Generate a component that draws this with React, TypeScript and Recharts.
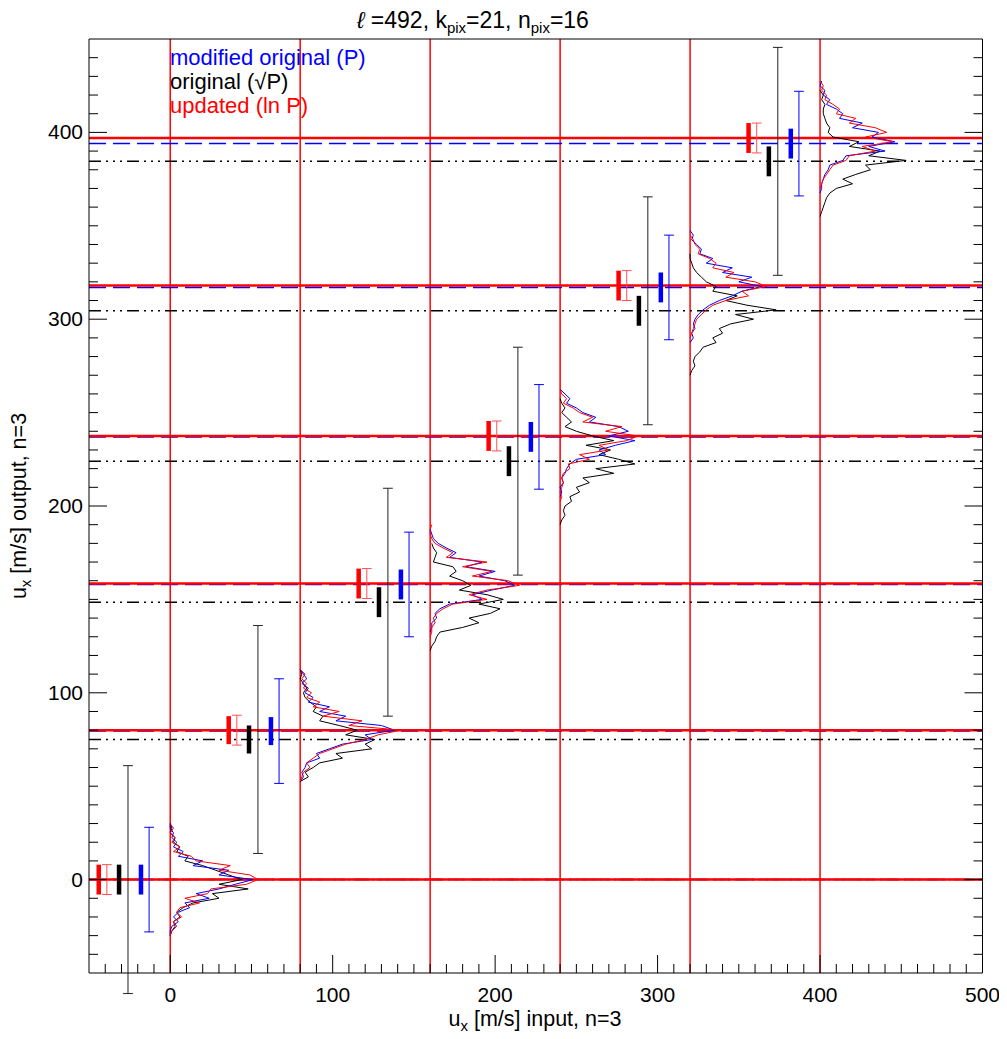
import React from 'react';
import { ComposedChart, XAxis, YAxis, Scatter, ReferenceLine } from 'recharts';

// input velocities (one column per input)
const INPUTS = [0, 80, 160, 240, 320, 400];

// mean recovered output per method
const RED_MEAN = [0, 80, 158.5, 237.5, 318, 397];
const BLUE_MEAN = [0, 79.5, 158, 237, 317, 394];
const BLACK_MEAN = [0, 75, 148.5, 224, 304.5, 384.5];

// half-length of the thick bars (error of the mean) and thin errorbars (scatter)
const MEAN_ERR = [8, 7.5, 8, 8, 8, 8];
const RED_ERR = [8, 8, 8, 8, 8, 8];
const BLUE_ERR = [28, 28, 28, 28, 28, 28];
const BLACK_ERR = [61, 61, 61, 61, 61, 61];

// histograms of the output: first bin centre and counts, bins 2.5 m/s wide
const BIN = 2.5;
const RED_TOP = [30, 112.5, 190, 262.5, 345, 427.5];
const RED_HIST = [
  [0, 2, 0, 3, 1, 6, 2, 13, 16, 37, 30, 49, 54, 47, 25, 23, 9, 18, 6, 4, 7, 2, 4, 1, 0],
  [0, 3, 1, 4, 2, 7, 4, 12, 8, 24, 14, 38, 30, 62, 48, 40, 28, 20, 12, 8, 4, 6, 2, 1, 0],
  [1, 0, 0, 1, 3, 8, 14, 10, 35, 20, 38, 26, 48, 55, 35, 24, 35, 14, 8, 4, 2, 3, 1, 1, 0],
  [0, 1, 4, 2, 8, 12, 20, 14, 38, 28, 48, 41, 24, 30, 12, 18, 5, 6, 2, 1, 2, 1, 0, 1, 0],
  [0, 2, 3, 6, 5, 12, 16, 14, 27, 22, 40, 47, 32, 36, 22, 14, 10, 7, 4, 3, 2, 1, 0],
  [0, 2, 1, 4, 3, 8, 12, 10, 22, 18, 34, 41, 28, 45, 26, 34, 18, 16, 8, 6, 4, 2, 1, 0],
];
const BLUE_TOP = [30, 112.5, 187.5, 262.5, 347.5, 427.5];
const BLUE_HIST = [
  [0, 0, 2, 1, 4, 2, 8, 5, 20, 14, 36, 30, 51, 40, 30, 16, 24, 9, 12, 5, 2, 5, 1, 0, 0],
  [0, 2, 4, 1, 5, 3, 8, 5, 18, 12, 28, 22, 50, 58, 40, 44, 26, 18, 10, 12, 4, 3, 1, 2, 0],
  [0, 1, 2, 5, 10, 16, 12, 32, 22, 40, 30, 46, 52, 38, 26, 32, 12, 6, 3, 4, 1, 1, 0],
  [0, 3, 6, 4, 10, 14, 22, 18, 36, 42, 30, 46, 34, 24, 28, 10, 6, 4, 3, 1, 2, 0, 1, 0],
  [0, 2, 1, 4, 7, 6, 14, 10, 26, 20, 38, 30, 44, 32, 26, 18, 12, 8, 5, 3, 2, 3, 1, 2, 0],
  [1, 0, 3, 2, 6, 4, 10, 14, 12, 26, 20, 36, 32, 46, 30, 40, 16, 14, 6, 5, 3, 2, 1, 1, 0],
];
const BLACK_TOP = [30, 112.5, 180, 257.5, 335, 422.5];
const BLACK_HIST = [
  [0, 1, 0, 3, 2, 6, 4, 11, 9, 20, 28, 36, 44, 30, 48, 26, 30, 14, 8, 4, 6, 2, 3, 1, 0],
  [0, 1, 0, 2, 4, 2, 3, 6, 10, 8, 14, 12, 24, 35, 28, 46, 40, 44, 22, 26, 12, 8, 3, 5, 0],
  [1, 2, 4, 3, 2, 14, 16, 12, 20, 25, 18, 35, 45, 30, 43, 37, 24, 30, 20, 6, 4, 3, 1, 0],
  [0, 1, 3, 1, 4, 7, 3, 10, 20, 33, 16, 31, 24, 36, 46, 22, 33, 14, 18, 10, 12, 6, 7, 3, 2, 3, 1, 0],
  [0, 0, 1, 2, 4, 7, 10, 16, 14, 29, 22, 35, 53, 28, 39, 25, 18, 20, 14, 16, 8, 6, 3, 2, 3, 1, 0],
  [0, 2, 1, 3, 2, 2, 3, 4, 6, 5, 8, 24, 18, 37, 30, 53, 28, 31, 22, 14, 20, 10, 6, 4, 3, 2, 1, 0],
];

const X_LABELS = [0, 100, 200, 300, 400, 500];
const Y_LABELS = [0, 100, 200, 300, 400];

const W = 999;
const H = 1031;
const FONT = '"Liberation Sans", Arial, Helvetica, sans-serif';
const RED = '#ff0000';
const BLUE = '#0000ff';
const PINK = '#ff5050';

// where each marker sits left of its input column
const OFF_RED_BAR = -44;
const OFF_RED_ERR = -39;
const OFF_BLACK_BAR = -31.5;
const OFF_BLACK_ERR = -26;
const OFF_BLUE_BAR = -18;
const OFF_BLUE_ERR = -13;
const CAP = 3;

const every10 = (a: number, b: number) => {
  const t: number[] = [];
  for (let v = a; v <= b; v += 10) t.push(v);
  return t;
};
const X_TICKS = every10(-40, 500);
const Y_TICKS = every10(-40, 440);

const toPoints = (input: number, top: number, counts: number[]) =>
  counts.map((n, i) => ({ x: input + n, y: top - i * BIN }));

const NoDot = () => <g />;

const XTick = (props: any) => {
  const { x, y, payload, side } = props;
  const v = payload.value;
  const major = X_LABELS.includes(v);
  const len = major ? 18 : 9;
  const dir = side === 'bottom' ? -1 : 1;
  return (
    <g>
      <line x1={x} y1={y} x2={x} y2={y + dir * len} stroke="#000" strokeWidth={1} />
      {side === 'bottom' && major && (
        <text x={x} y={y + 29} textAnchor="middle" fontSize={21} fontFamily={FONT} fill="#000">
          {v}
        </text>
      )}
    </g>
  );
};

const YTick = (props: any) => {
  const { x, y, payload, side } = props;
  const v = payload.value;
  const major = Y_LABELS.includes(v);
  const len = major ? 18 : 9;
  const dir = side === 'left' ? 1 : -1;
  return (
    <g>
      <line x1={x} y1={y} x2={x + dir * len} y2={y} stroke="#000" strokeWidth={1} />
      {side === 'left' && major && (
        <text x={x - 6} y={y + 7} textAnchor="end" fontSize={21} fontFamily={FONT} fill="#000">
          {v}
        </text>
      )}
    </g>
  );
};

const seg = (key: string, x1: number, y1: number, x2: number, y2: number, stroke: string, w: number) => (
  <ReferenceLine
    key={key}
    xAxisId="b"
    yAxisId="l"
    segment={[{ x: x1, y: y1 }, { x: x2, y: y2 }]}
    stroke={stroke}
    strokeWidth={w}
    ifOverflow="visible"
  />
);

const errBar = (key: string, x: number, mid: number, err: number, stroke: string) => [
  seg(key + 'v', x, mid - err, x, mid + err, stroke, 1),
  seg(key + 't', x - CAP, mid + err, x + CAP, mid + err, stroke, 1),
  seg(key + 'b', x - CAP, mid - err, x + CAP, mid - err, stroke, 1),
];

export default function App() {
  const verticals = INPUTS.map((u) => (
    <ReferenceLine key={'vx' + u} xAxisId="b" yAxisId="l" x={u} stroke={RED} strokeWidth={1.5} />
  ));

  const hists: React.ReactNode[] = [];
  INPUTS.forEach((u, g) => {
    [
      { name: 'k', color: '#000', top: BLACK_TOP[g], counts: BLACK_HIST[g] },
      { name: 'b', color: BLUE, top: BLUE_TOP[g], counts: BLUE_HIST[g] },
      { name: 'r', color: RED, top: RED_TOP[g], counts: RED_HIST[g] },
    ].forEach((h) => {
      hists.push(
        <Scatter
          key={'h' + h.name + g}
          xAxisId="b"
          yAxisId="l"
          data={toPoints(u, h.top, h.counts)}
          fill={h.color}
          line={{ stroke: h.color, strokeWidth: 1 }}
          lineType="joint"
          shape={NoDot}
          isAnimationActive={false}
        />
      );
    });
  });

  const horizontals: React.ReactNode[] = [];
  INPUTS.forEach((u, g) => {
    horizontals.push(
      <ReferenceLine key={'hk' + g} xAxisId="b" yAxisId="l" y={BLACK_MEAN[g]} stroke="#000" strokeWidth={1.5} strokeDasharray="12 5 2 5 2 5 2 5" />,
      <ReferenceLine key={'hb' + g} xAxisId="b" yAxisId="l" y={BLUE_MEAN[g]} stroke={BLUE} strokeWidth={1.5} strokeDasharray="17 7" />,
      <ReferenceLine key={'hr' + g} xAxisId="b" yAxisId="l" y={RED_MEAN[g]} stroke={RED} strokeWidth={2.5} />
    );
  });

  const bars: React.ReactNode[] = [];
  INPUTS.forEach((u, g) => {
    bars.push(
      seg('rb' + g, u + OFF_RED_BAR, RED_MEAN[g] - MEAN_ERR[g], u + OFF_RED_BAR, RED_MEAN[g] + MEAN_ERR[g], RED, 4.5),
      ...errBar('re' + g, u + OFF_RED_ERR, RED_MEAN[g], RED_ERR[g], PINK),
      seg('kb' + g, u + OFF_BLACK_BAR, BLACK_MEAN[g] - MEAN_ERR[g], u + OFF_BLACK_BAR, BLACK_MEAN[g] + MEAN_ERR[g], '#000', 4.5),
      ...errBar('ke' + g, u + OFF_BLACK_ERR, BLACK_MEAN[g], BLACK_ERR[g], '#222'),
      seg('bb' + g, u + OFF_BLUE_BAR, BLUE_MEAN[g] - MEAN_ERR[g], u + OFF_BLUE_BAR, BLUE_MEAN[g] + MEAN_ERR[g], BLUE, 4.5),
      ...errBar('be' + g, u + OFF_BLUE_ERR, BLUE_MEAN[g], BLUE_ERR[g], BLUE)
    );
  });

  return (
    <div style={{ position: 'relative', width: W, height: H, fontFamily: FONT }}>
      <ComposedChart width={W} height={H} margin={{ top: 21, right: 14.5, bottom: 26, left: 21 }}>
        <XAxis
          xAxisId="b"
          type="number"
          dataKey="x"
          domain={[-50, 500]}
          allowDataOverflow
          ticks={X_TICKS}
          interval={0}
          tickLine={false}
          tickSize={0}
          tickMargin={0}
          tick={(p: any) => <XTick {...p} side="bottom" />}
          axisLine={{ stroke: '#000' }}
          height={40}
        />
        <XAxis
          xAxisId="t"
          orientation="top"
          type="number"
          domain={[-50, 500]}
          allowDataOverflow
          ticks={X_TICKS}
          interval={0}
          tickLine={false}
          tickSize={0}
          tickMargin={0}
          tick={(p: any) => <XTick {...p} side="top" />}
          axisLine={{ stroke: '#000' }}
          height={10}
        />
        <YAxis
          yAxisId="l"
          type="number"
          dataKey="y"
          domain={[-50, 450]}
          allowDataOverflow
          ticks={Y_TICKS}
          interval={0}
          tickLine={false}
          tickSize={0}
          tickMargin={0}
          tick={(p: any) => <YTick {...p} side="left" />}
          axisLine={{ stroke: '#000' }}
          width={60}
        />
        <YAxis
          yAxisId="r"
          orientation="right"
          type="number"
          domain={[-50, 450]}
          allowDataOverflow
          ticks={Y_TICKS}
          interval={0}
          tickLine={false}
          tickSize={0}
          tickMargin={0}
          tick={(p: any) => <YTick {...p} side="right" />}
          axisLine={{ stroke: '#000' }}
          width={10}
        />
        {verticals}
        {hists}
        {horizontals}
        {bars}
      </ComposedChart>
      <svg
        width={W}
        height={H}
        style={{ position: 'absolute', left: 0, top: 0, pointerEvents: 'none', overflow: 'visible' }}
        fontFamily={FONT}
      >
        <text x={349} y={20} fontSize={23} fill="#000">
          <tspan fontStyle="italic">ℓ</tspan>
          <tspan> =492, k</tspan>
          <tspan fontSize={15} dy={5}>pix</tspan>
          <tspan dy={-5}>=21, n</tspan>
          <tspan fontSize={15} dy={5}>pix</tspan>
          <tspan dy={-5}>=16</tspan>
        </text>
        <text fontSize={22}>
          <tspan x={162} y={57} fill={BLUE}>modified original (P)</tspan>
          <tspan x={162} y={81} fill="#000">original (√P)</tspan>
          <tspan x={162} y={105} fill={RED}>updated (ln P)</tspan>
        </text>
        <text x={527} y={1018} textAnchor="middle" fontSize={21.5} fill="#000">
          <tspan>u</tspan>
          <tspan fontSize={15} dy={5}>x</tspan>
          <tspan dy={-5}> [m/s] input, n=3</tspan>
        </text>
        <text transform="translate(18 498) rotate(-90)" textAnchor="middle" fontSize={21.5} fill="#000">
          <tspan>u</tspan>
          <tspan fontSize={15} dy={5}>x</tspan>
          <tspan dy={-5}> [m/s] output, n=3</tspan>
        </text>
      </svg>
    </div>
  );
}
